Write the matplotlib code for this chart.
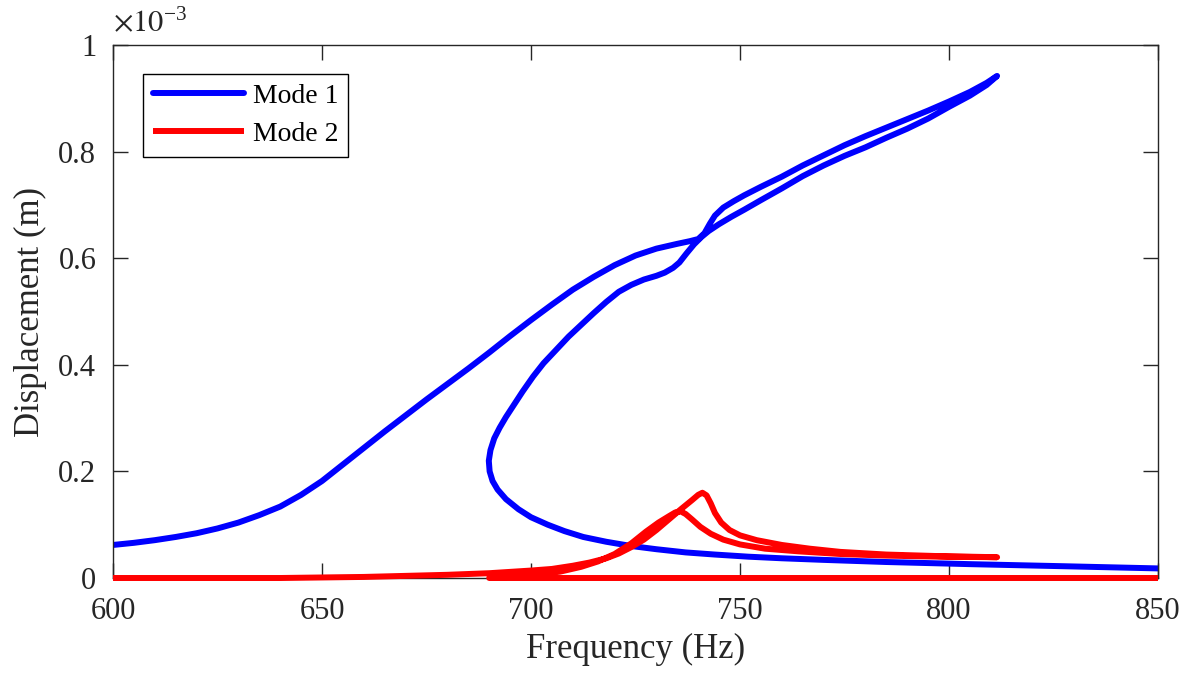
import matplotlib
matplotlib.use("Agg")
import matplotlib.pyplot as plt
from matplotlib.ticker import FuncFormatter

# values, displacement in units of 1e-3 m
# Mode 1: upper branch 600 -> 812 Hz
freq_m1_up = [600, 605, 610, 615, 620, 625, 630, 635, 640, 645, 650, 655, 660, 665,
              670, 675, 680, 685, 690, 695, 700, 705, 710, 715, 720, 725, 730, 735,
              738, 740, 741.5, 742.8, 744, 746, 748.5, 751, 755, 760, 765, 770, 775,
              780, 785, 790, 795, 800, 805, 809, 811.5]
disp_m1_up = [0.062, 0.066, 0.071, 0.077, 0.084, 0.093, 0.104, 0.118, 0.134, 0.156,
              0.182, 0.213, 0.244, 0.275, 0.305, 0.335, 0.364, 0.393, 0.423, 0.454,
              0.484, 0.513, 0.541, 0.565, 0.587, 0.605, 0.618, 0.627, 0.632, 0.636,
              0.647, 0.665, 0.680, 0.695, 0.707, 0.718, 0.734, 0.753, 0.774, 0.793,
              0.812, 0.829, 0.845, 0.861, 0.877, 0.894, 0.912, 0.929, 0.942]
# Mode 1: unstable branch 812 -> 690 Hz, then lower branch to 850 Hz
freq_m1_ret = [811.5, 809, 805, 800, 795, 790, 785, 780, 775, 770, 765, 760, 755, 751,
               748, 745, 742.5, 740.8, 739, 737.2, 735.5, 734, 732, 730, 727, 724, 721,
               718, 715, 712, 709, 706, 703, 700.5, 698, 696, 694, 692.5, 691.2, 690.3,
               689.9, 690.1, 690.8, 692, 694, 697, 700, 704, 708, 712.5, 718, 724, 730,
               737, 744, 752, 760, 770, 785, 805, 828, 850]
disp_m1_ret = [0.942, 0.925, 0.905, 0.884, 0.862, 0.843, 0.826, 0.808, 0.792, 0.774,
               0.754, 0.731, 0.709, 0.691, 0.678, 0.664, 0.651, 0.640, 0.626, 0.609,
               0.592, 0.582, 0.573, 0.567, 0.560, 0.550, 0.537, 0.518, 0.497, 0.475,
               0.453, 0.428, 0.403, 0.378, 0.350, 0.326, 0.302, 0.282, 0.262, 0.240,
               0.220, 0.200, 0.182, 0.166, 0.148, 0.129, 0.114, 0.100, 0.088, 0.077,
               0.068, 0.060, 0.054, 0.048, 0.044, 0.040, 0.037, 0.034, 0.030, 0.026,
               0.022, 0.018]

# Mode 2: upper branch 600 -> 812 Hz
freq_m2_up = [600, 640, 660, 670, 680, 690, 700, 705, 710, 714, 718, 721, 724, 727,
              730, 733, 736, 738.5, 740, 741, 742, 743, 744, 745.5, 747.5, 750, 754,
              760, 766.7, 774, 785, 798, 811.5]
disp_m2_up = [0.000, 0.000, 0.002, 0.004, 0.006, 0.009, 0.014, 0.017, 0.023, 0.029,
              0.037, 0.046, 0.058, 0.072, 0.090, 0.110, 0.130, 0.146, 0.156, 0.160,
              0.155, 0.140, 0.122, 0.104, 0.090, 0.080, 0.071, 0.062, 0.055, 0.049,
              0.044, 0.041, 0.039]
# Mode 2: unstable branch 812 -> 690 Hz, then lower branch to 850 Hz
freq_m2_ret = [811.5, 798, 785, 774, 764, 756, 750, 746, 743, 740.5, 738.5, 737, 735.8,
               734.5, 733, 730.5, 727.5, 724, 720, 716, 712, 707, 702, 697, 692, 690,
               720, 760, 800, 850]
disp_m2_ret = [0.039, 0.040, 0.042, 0.045, 0.050, 0.055, 0.063, 0.072, 0.083, 0.096,
               0.110, 0.120, 0.125, 0.123, 0.116, 0.104, 0.087, 0.065, 0.045, 0.031,
               0.021, 0.012, 0.007, 0.003, 0.001, 0.000, 0.000, 0.000, 0.000, 0.000]

x_ticks = [600, 650, 700, 750, 800, 850]
y_ticks = [0, 0.2, 0.4, 0.6, 0.8, 1]

plt.rcParams['font.family'] = ['Liberation Serif', 'DejaVu Serif']
plt.rcParams['mathtext.fontset'] = 'stix'

fig = plt.figure(figsize=(11.86, 6.75), dpi=100)
ax = fig.add_axes([0.0953, 0.1437, 0.8811, 0.7896])

axis_col = '#262626'
ax.plot(freq_m1_up + freq_m1_ret[1:], disp_m1_up + disp_m1_ret[1:], color='#0000ff',
        lw=4.3, solid_joinstyle='round', solid_capstyle='round', label='Mode 1')
ax.plot(freq_m2_up + freq_m2_ret[1:], disp_m2_up + disp_m2_ret[1:], color='#ff0000',
        lw=4.3, solid_joinstyle='round', solid_capstyle='butt', label='Mode 2',
        clip_on=False, zorder=3)

ax.set_xlim(600, 850)
ax.set_ylim(0, 1)
ax.set_xticks(x_ticks)
ax.set_yticks(y_ticks)
ax.yaxis.set_major_formatter(FuncFormatter(lambda v, p: '%g' % v))
ax.tick_params(direction='in', length=11, width=1, colors=axis_col, labelsize=22,
               top=True, right=True)
ax.tick_params(axis='x', pad=14)
ax.tick_params(axis='y', pad=12)
for s in ax.spines.values():
    s.set_color(axis_col)
    s.set_linewidth(1)
    s.set_zorder(2.5)

ax.set_xlabel('Frequency (Hz)', fontsize=25, color=axis_col, labelpad=5)
ax.set_ylabel('Displacement (m)', fontsize=25, color=axis_col, labelpad=8)
ax.text(0.0, 1.01, r'$\times10^{\mathregular{-3}}$', transform=ax.transAxes, fontsize=22,
        color=axis_col, ha='left', va='bottom')

leg = ax.legend(loc='upper left', bbox_to_anchor=(0.0287, 0.9456), borderaxespad=0,
                fontsize=20, fancybox=False, edgecolor='black', framealpha=1,
                handlelength=3.3, handletextpad=0.3, borderpad=0.35, labelspacing=0.45)
leg.get_frame().set_linewidth(1)

fig.savefig('out.png', dpi=100)
